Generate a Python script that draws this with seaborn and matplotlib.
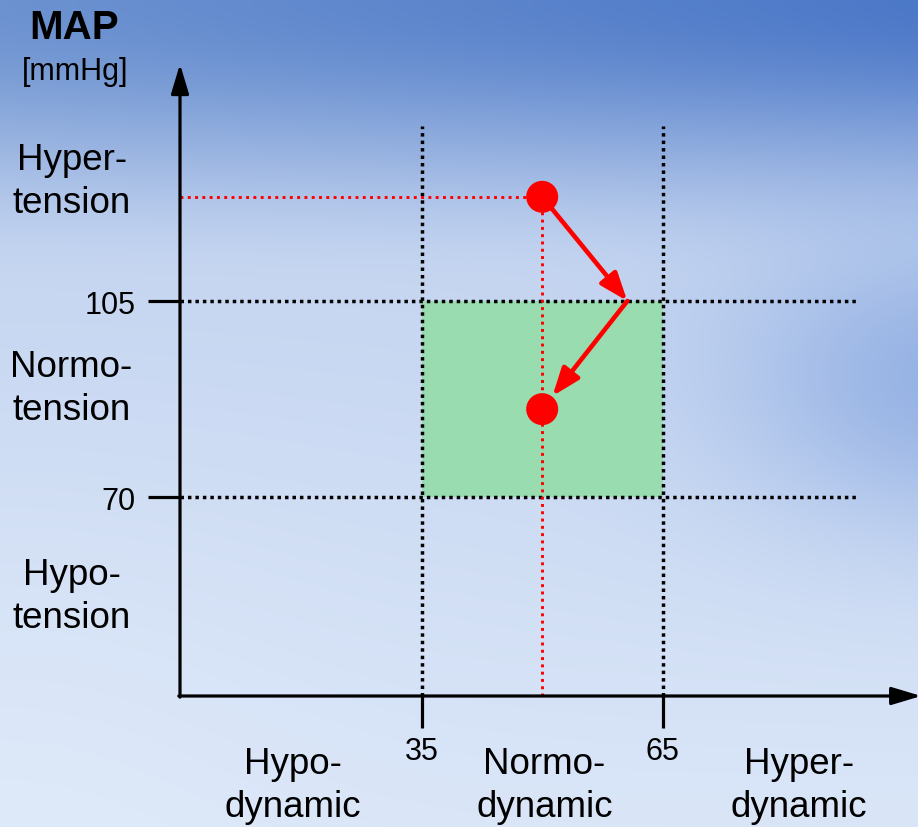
import numpy as np
import pandas as pd
import matplotlib.pyplot as plt
import seaborn as sns

# axis thresholds
x_ticks = [35, 65]
y_ticks = [70, 105]

# region labels
x_cats = ["Hypo-\ndynamic", "Normo-\ndynamic", "Hyper-\ndynamic"]
x_cat_pos = [19.0, 50.3, 82.0]
y_cats = ["Hyper-\ntension", "Normo-\ntension", "Hypo-\ntension"]
y_cat_pos = [126.4, 89.5, 52.3]

# patient state before / after, and the turning point between them
state_x = [50, 50]
state_y = [123.6, 85.7]
turn_x = 60.6
turn_y = 105

x_lim = (4.9, 96.8)
y_lim = (34.5, 147.3)
guide_top = 136.3
guide_right = 89.5

sns.set_style("white")
plt.rcParams["font.family"] = ["Liberation Sans", "DejaVu Sans"]
plt.rcParams["text.color"] = "black"
plt.rcParams["xtick.color"] = "black"
plt.rcParams["ytick.color"] = "black"

fig = plt.figure(figsize=(9.18, 8.28), dpi=100)

# slide-like blue gradient background
H, W = 828, 918
yy, xx = np.mgrid[0:H, 0:W].astype(float)
fx = (xx / W)[..., None]
top = np.array([108, 146, 208]) * (1 - fx) + np.array([76, 120, 200]) * fx
mid = np.array([198, 214, 241])
bot = np.array([218, 230, 248])
s = np.clip(yy / 290, 0, 1)[..., None]
s = s * s * (3 - 2 * s)
bg = top * (1 - s) + mid * s
s2 = np.clip((yy - 290) / 538, 0, 1)[..., None]
bg = bg * (1 - s2) + bot * s2
w = (np.exp(-((xx - 960) / 230) ** 2 - ((yy - 380) / 150) ** 2) * 0.7)[..., None]
bg = bg * (1 - w) + np.array([128, 162, 222]) * w
w2 = (np.exp(-((xx) / 330) ** 2 - ((yy - 828) / 330) ** 2) * 0.5)[..., None]
bg = bg * (1 - w2) + np.array([226, 236, 250]) * w2
bg_ax = fig.add_axes([0, 0, 1, 1], zorder=-1)
bg_ax.imshow(bg.astype(np.uint8), aspect="auto")
bg_ax.axis("off")

ax = fig.add_axes([180 / 918, 1 - 697 / 828, 738 / 918, 632 / 828])
ax.patch.set_alpha(0)
ax.set_xlim(*x_lim)
ax.set_ylim(*y_lim)
for sp in ax.spines.values():
    sp.set_visible(False)

# normal zone
ax.fill_between([x_ticks[0], x_ticks[1]], y_ticks[0], y_ticks[1],
                color="#98dcb0", lw=0, zorder=1)

# black dotted guides
dot_black = dict(color="black", lw=2.5, linestyle=(0, (1, 1.15)), zorder=2)
ax.vlines(x_ticks, y_lim[0], guide_top, **dot_black)
ax.hlines(y_ticks, x_lim[0], guide_right, **dot_black)

# red dotted guides to the first state
dot_red = dict(color="red", lw=2.1, linestyle=(0, (1, 1.5)), zorder=3)
ax.hlines(state_y[0], x_lim[0], state_x[0], **dot_red)
ax.vlines(state_x[0], y_lim[0], state_y[0], **dot_red)

# red arrows: state 1 -> turning point -> state 2
red_arrow = dict(arrowstyle="-|>,head_length=0.85,head_width=0.32",
                 color="red", lw=3.3, mutation_scale=20)
ax.annotate("", xy=(turn_x, turn_y), xytext=(state_x[0], state_y[0]),
            arrowprops=dict(shrinkA=11, shrinkB=0, **red_arrow), zorder=4)
ax.annotate("", xy=(state_x[1], state_y[1]), xytext=(turn_x, turn_y),
            arrowprops=dict(shrinkA=0, shrinkB=12, **red_arrow), zorder=4)

df = pd.DataFrame({"x": state_x, "y": state_y})
sns.scatterplot(data=df, x="x", y="y", ax=ax, s=530, color="red",
                edgecolor="none", zorder=5, clip_on=False)

# axes with arrow heads
axis_arrow = dict(arrowstyle="-|>,head_length=0.9,head_width=0.27",
                  color="black", lw=2.3, mutation_scale=20, shrinkA=0, shrinkB=0)
ax.annotate("", xy=(x_lim[0], y_lim[1]), xytext=(x_lim[0], y_lim[0] - 0.2),
            arrowprops=axis_arrow, annotation_clip=False, zorder=6)
ax.annotate("", xy=(97.2, y_lim[0]), xytext=(x_lim[0] - 0.15, y_lim[0]),
            arrowprops=axis_arrow, annotation_clip=False, zorder=6)

ax.set_xticks(x_ticks)
ax.set_yticks(y_ticks)
ax.tick_params(axis="both", length=23, width=2.3, color="black",
               labelcolor="black", labelsize=22, direction="out")
ax.tick_params(axis="y", pad=9, left=True)
ax.tick_params(axis="x", pad=6, bottom=True)
ax.set_xlabel("")
ax.set_ylabel("")

for lab, yv in zip(y_cats, y_cat_pos):
    ax.text(-8.6, yv, lab, ha="center", va="center", fontsize=26.5,
            linespacing=1.3, color="black", clip_on=False)
for lab, xv in zip(x_cats, x_cat_pos):
    ax.text(xv, 18.6, lab, ha="center", va="center", fontsize=26.5,
            linespacing=1.3, color="black", clip_on=False)

fig.text(74 / 918, 1 - 28 / 828, "MAP", fontsize=29, fontweight="bold",
         color="black", ha="center", va="center")
fig.text(75 / 918, 1 - 72 / 828, "[mmHg]", fontsize=22, color="black",
         ha="center", va="center")

fig.savefig("out.png", dpi=100)
